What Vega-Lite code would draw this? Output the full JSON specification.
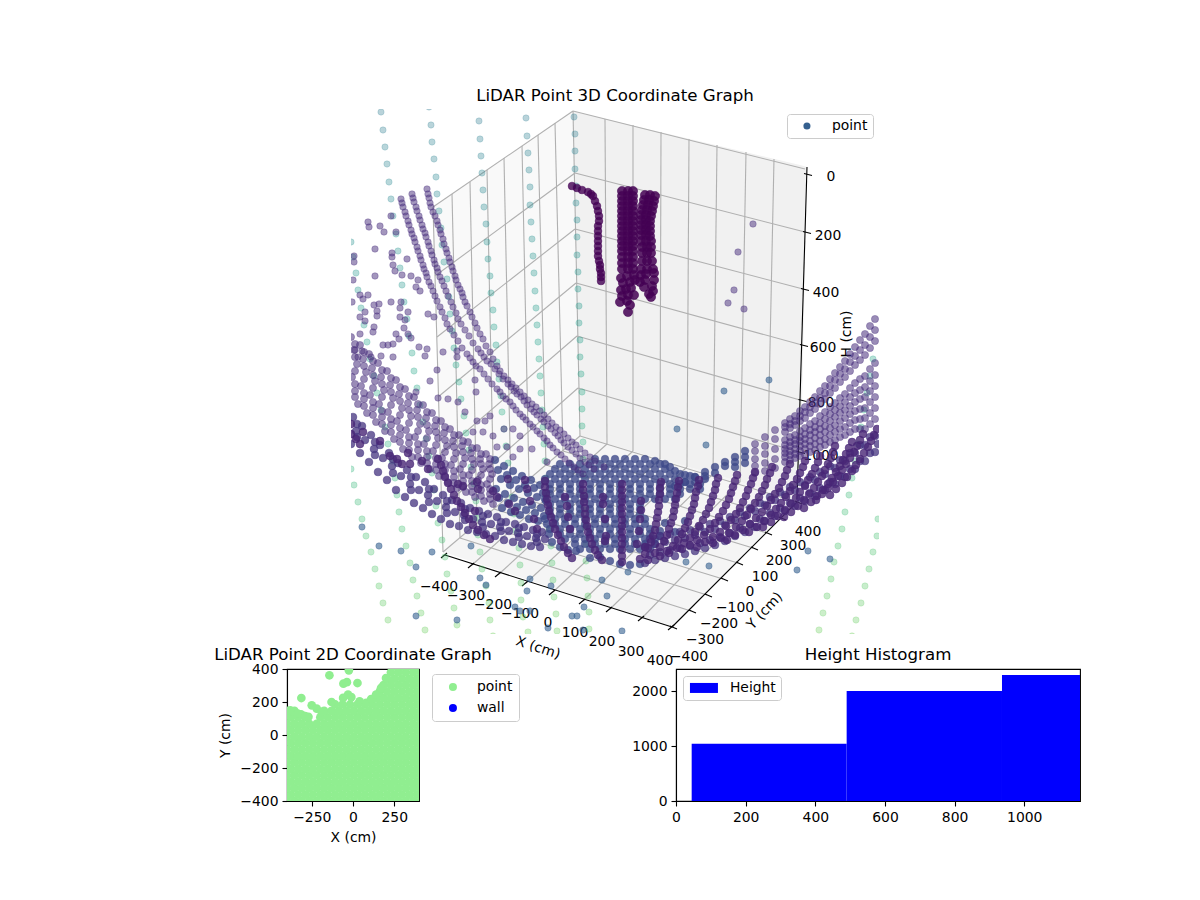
{"$schema":"https://vega.github.io/schema/vega-lite/v6.json","padding":{"left":213,"top":88,"right":0,"bottom":0},"spacing":-22,"background":"white",
"resolve":{"scale":{"color":"independent","shape":"independent"},"legend":{"color":"independent","shape":"independent"}},
"config":{"font":"DejaVu Sans","title":{"fontSize":16.67,"fontWeight":"normal","color":"black","anchor":"middle","offset":4},"axis":{"grid":false,"domainColor":"black","domainWidth":1.1,"tickColor":"black","tickWidth":1.1,"tickSize":5,"labelFontSize":13.9,"labelColor":"black","titleFontSize":13.9,"titleColor":"black","titleFontWeight":"normal","labelPadding":4,"titlePadding":7,"labelFlush":false,"labelOverlap":false},"legend":{"title":null,"orient":"none","strokeColor":"#cccccc","fillColor":"white","cornerRadius":3,"labelFontSize":13.9,"labelColor":"black","padding":6},"view":{"stroke":"black","strokeWidth":1.1},"text":{"fontSize":13.9,"color":"black"}},
"datasets":{
"pl":[{"u":433,"v":208,"b":208},{"u":443,"v":201,"b":553},{"u":573,"v":112,"b":443},{"u":580,"v":437,"b":437}],
"pr":[{"u":573,"v":112,"b":112},{"u":580,"v":114,"b":437},{"u":800,"v":166,"b":500},{"u":807,"v":168,"b":168}],
"pf":[{"u":443,"v":553,"b":553},{"u":580,"v":437,"b":598},{"u":672,"v":463,"b":628},{"u":800,"v":500,"b":500}],
"grid":[{"u":605,"v":120,"a":607,"b":445},{"u":633,"v":126,"a":633,"b":452},{"u":661,"v":133,"a":660,"b":460},{"u":689,"v":140,"a":687,"b":468},{"u":717,"v":146,"a":713,"b":475},{"u":746,"v":153,"a":740,"b":483},{"u":774,"v":160,"a":767,"b":490},
{"u":607,"v":445,"a":472,"b":566},{"u":633,"v":452,"a":499,"b":575},{"u":660,"v":460,"a":526,"b":584},{"u":687,"v":468,"a":553,"b":593},{"u":713,"v":475,"a":583,"b":602},{"u":740,"v":483,"a":610,"b":610},{"u":767,"v":490,"a":642,"b":619},
{"u":452,"v":195,"a":460,"b":539},{"u":470,"v":183,"a":477,"b":524},{"u":487,"v":171,"a":494,"b":510},{"u":504,"v":159,"a":511,"b":496},{"u":522,"v":147,"a":529,"b":481},{"u":538,"v":136,"a":546,"b":466},{"u":555,"v":124,"a":563,"b":452},
{"u":460,"v":539,"a":691,"b":612},{"u":477,"v":524,"a":707,"b":596},{"u":494,"v":510,"a":723,"b":580},{"u":511,"v":496,"a":738,"b":564},{"u":529,"v":481,"a":753,"b":549},{"u":546,"v":466,"a":767,"b":534},{"u":563,"v":452,"a":781,"b":519},
{"u":573,"v":112,"a":580,"b":437},{"u":433,"v":208,"a":443,"b":553},{"u":443,"v":553,"a":580,"b":437},{"u":580,"v":437,"a":797,"b":503},{"u":573,"v":112,"a":805,"b":170},{"u":573,"v":112,"a":433,"b":208},
{"u":575,"v":174,"a":805,"b":233},{"u":575,"v":230,"a":803,"b":290},{"u":576,"v":284,"a":802,"b":346},{"u":577,"v":337,"a":800,"b":401},{"u":578,"v":389,"a":799,"b":453},
{"u":575,"v":174,"a":435,"b":277},{"u":575,"v":230,"a":437,"b":338},{"u":576,"v":284,"a":438,"b":398},{"u":577,"v":337,"a":440,"b":455},{"u":578,"v":389,"a":441,"b":510}],
"ax":[{"u":445,"v":556,"a":672,"b":628},{"u":672,"v":628,"a":797,"b":503},{"u":807,"v":168,"a":797,"b":500},
{"u":447,"v":554,"a":441,"b":559},{"u":474,"v":564,"a":468,"b":569},{"u":501,"v":573,"a":495,"b":578},{"u":528,"v":582,"a":522,"b":587},{"u":555,"v":591,"a":549,"b":596},{"u":585,"v":600,"a":579,"b":605},{"u":612,"v":608,"a":606,"b":613},{"u":644,"v":617,"a":638,"b":622},{"u":674,"v":626,"a":668,"b":631},
{"u":670,"v":627,"a":677,"b":630},{"u":689,"v":611,"a":696,"b":614},{"u":705,"v":595,"a":712,"b":598},{"u":721,"v":579,"a":728,"b":582},{"u":736,"v":563,"a":743,"b":566},{"u":751,"v":548,"a":758,"b":551},{"u":765,"v":533,"a":772,"b":536},{"u":779,"v":518,"a":786,"b":521},{"u":795,"v":502,"a":802,"b":505},
{"u":804,"v":174.5,"a":812,"b":176.5},{"u":803,"v":232.5,"a":811,"b":234.5},{"u":801,"v":289.5,"a":809,"b":291.5},{"u":800,"v":345.5,"a":808,"b":347.5},{"u":798.5,"v":400.5,"a":806.5,"b":402.5},{"u":797,"v":452.5,"a":805,"b":454.5}],
"lab":[{"u":439,"v":588,"t":"−400"},{"u":466,"v":597,"t":"−300"},{"u":493,"v":606,"t":"−200"},{"u":520,"v":615,"t":"−100"},{"u":548,"v":624,"t":"0"},{"u":575,"v":634,"t":"100"},{"u":602,"v":643,"t":"200"},{"u":631,"v":653,"t":"300"},{"u":660,"v":662,"t":"400"},
{"u":689,"v":658,"t":"−400"},{"u":705,"v":641,"t":"−300"},{"u":719,"v":625,"t":"−200"},{"u":735,"v":609,"t":"−100"},{"u":750,"v":593,"t":"0"},{"u":765,"v":578,"t":"100"},{"u":779,"v":562,"t":"200"},{"u":793,"v":547,"t":"300"},{"u":808,"v":533,"t":"400"},
{"u":831,"v":178,"t":"0"},{"u":828,"v":237,"t":"200"},{"u":826,"v":294,"t":"400"},{"u":823,"v":349,"t":"600"},{"u":821,"v":404,"t":"800"},{"u":821,"v":457,"t":"1000"}],
"teal":[{"u":351,"v":243},{"u":353,"v":258},{"u":356,"v":274},{"u":358,"v":291},{"u":361,"v":309},{"u":364,"v":326},{"u":367,"v":343},{"u":370,"v":360},{"u":374,"v":377},{"u":377,"v":394},{"u":381,"v":411},{"u":385,"v":428},{"u":388,"v":445},{"u":392,"v":462},{"u":395,"v":479},{"u":397,"v":496},{"u":399,"v":513},{"u":402,"v":530},{"u":406,"v":547},{"u":410,"v":564},{"u":413,"v":581},{"u":417,"v":597},{"u":421,"v":614},{"u":425,"v":631},
{"u":351,"v":470},{"u":354,"v":486},{"u":358,"v":503},{"u":362,"v":520},{"u":366,"v":537},{"u":371,"v":553},{"u":375,"v":570},{"u":379,"v":587},{"u":383,"v":604},{"u":388,"v":621},
{"u":381,"v":113},{"u":383,"v":131},{"u":385,"v":148},{"u":387,"v":165},{"u":389,"v":183},{"u":391,"v":200},{"u":393,"v":217},{"u":396,"v":235},{"u":398,"v":252},{"u":400,"v":269},{"u":402,"v":286},{"u":404,"v":303},{"u":407,"v":320},{"u":409,"v":337},{"u":412,"v":354},{"u":414,"v":372},{"u":417,"v":389},{"u":420,"v":406},{"u":423,"v":423},{"u":426,"v":440},{"u":429,"v":457},{"u":432,"v":474},{"u":434,"v":491},{"u":436,"v":507},{"u":438,"v":524},{"u":442,"v":541},{"u":445,"v":558},{"u":447,"v":575},{"u":451,"v":592},{"u":454,"v":609},{"u":457,"v":626},
{"u":429,"v":108},{"u":431,"v":126},{"u":432,"v":143},{"u":434,"v":160},{"u":436,"v":178},{"u":437,"v":195},{"u":439,"v":212},{"u":441,"v":229},{"u":442,"v":246},{"u":444,"v":263},{"u":447,"v":280},{"u":449,"v":298},{"u":450,"v":315},{"u":452,"v":332},{"u":454,"v":349},{"u":456,"v":366},{"u":459,"v":383},{"u":461,"v":400},{"u":464,"v":417},{"u":466,"v":434},{"u":469,"v":451},{"u":471,"v":468},{"u":474,"v":485},{"u":476,"v":502},{"u":477,"v":519},{"u":478,"v":536},{"u":480,"v":553},{"u":482,"v":570},{"u":486,"v":587},{"u":489,"v":604},{"u":490,"v":621},{"u":493,"v":637},
{"u":479,"v":122},{"u":480,"v":140},{"u":481,"v":157},{"u":482,"v":174},{"u":483,"v":191},{"u":484,"v":208},{"u":486,"v":225},{"u":487,"v":243},{"u":488,"v":260},{"u":490,"v":277},{"u":491,"v":294},{"u":493,"v":311},{"u":494,"v":328},{"u":496,"v":346},{"u":497,"v":363},{"u":499,"v":380},{"u":501,"v":397},{"u":502,"v":413},{"u":504,"v":430},{"u":506,"v":447},{"u":508,"v":464},{"u":510,"v":481},{"u":512,"v":498},{"u":514,"v":515},{"u":516,"v":532},{"u":519,"v":549},{"u":520,"v":566},{"u":521,"v":584},{"u":521,"v":601},{"u":523,"v":618},{"u":528,"v":633},
{"u":526,"v":119},{"u":527,"v":137},{"u":528,"v":154},{"u":529,"v":171},{"u":530,"v":188},{"u":530,"v":206},{"u":531,"v":223},{"u":532,"v":240},{"u":533,"v":257},{"u":534,"v":274},{"u":535,"v":292},{"u":536,"v":309},{"u":537,"v":326},{"u":538,"v":343},{"u":539,"v":360},{"u":540,"v":377},{"u":541,"v":394},{"u":542,"v":411},{"u":543,"v":428},{"u":544,"v":445},{"u":545,"v":462},{"u":546,"v":479},{"u":547,"v":496},{"u":548,"v":513},{"u":549,"v":530},{"u":551,"v":547},{"u":552,"v":564},{"u":553,"v":581},{"u":554,"v":598},{"u":556,"v":615},{"u":557,"v":632},
{"u":574,"v":118},{"u":575,"v":135},{"u":575,"v":152},{"u":575,"v":170},{"u":576,"v":187},{"u":576,"v":204},{"u":577,"v":221},{"u":577,"v":238},{"u":577,"v":256},{"u":578,"v":273},{"u":578,"v":290},{"u":579,"v":307},{"u":579,"v":324},{"u":580,"v":341},{"u":580,"v":358},{"u":581,"v":375},{"u":582,"v":393},{"u":582,"v":410},{"u":582,"v":427},{"u":583,"v":443},{"u":583,"v":460},{"u":584,"v":477},{"u":584,"v":494},{"u":585,"v":511},{"u":585,"v":528},{"u":586,"v":545},{"u":586,"v":562},{"u":587,"v":579},{"u":588,"v":597},{"u":589,"v":613},{"u":589,"v":630},
{"u":873,"v":360},{"u":870,"v":377},{"u":867,"v":394},{"u":864,"v":411},{"u":861,"v":428},{"u":858,"v":445},{"u":855,"v":462},{"u":852,"v":479},{"u":849,"v":496},{"u":845,"v":513},{"u":842,"v":530},{"u":838,"v":547},{"u":834,"v":563},{"u":831,"v":580},{"u":827,"v":597},{"u":823,"v":614},{"u":819,"v":631},
{"u":878,"v":520},{"u":877,"v":537},{"u":873,"v":553},{"u":869,"v":570},{"u":865,"v":587},{"u":861,"v":604},{"u":856,"v":621},{"u":852,"v":637}],
"bscat":[{"u":432,"v":553},{"u":379,"v":547},{"u":401,"v":552},{"u":362,"v":528},{"u":416,"v":568},{"u":416,"v":617},{"u":457,"v":621},{"u":480,"v":579},{"u":486,"v":586},{"u":530,"v":580},{"u":527,"v":592},{"u":551,"v":587},{"u":515,"v":608},{"u":520,"v":612},{"u":530,"v":612},{"u":572,"v":617},{"u":577,"v":617},{"u":584,"v":608},{"u":607,"v":597},{"u":602,"v":581},{"u":548,"v":629},{"u":583,"v":631},{"u":471,"v":547},{"u":622,"v":632},{"u":628,"v":573},{"u":686,"v":563},{"u":709,"v":567},{"u":808,"v":552},{"u":830,"v":560},{"u":797,"v":571},{"u":677,"v":430},{"u":706,"v":446},{"u":724,"v":392},{"u":769,"v":381}],
"blue":[{"u":495,"v":461},{"u":498,"v":471},{"u":501,"v":480},{"u":496,"v":490},{"u":499,"v":499},{"u":502,"v":509},{"u":504,"v":467},{"u":507,"v":476},{"u":510,"v":486},{"u":505,"v":495},{"u":508,"v":504},{"u":511,"v":513},{"u":513,"v":472},{"u":516,"v":481},{"u":519,"v":490},{"u":514,"v":499},{"u":517,"v":508},{"u":520,"v":516},{"u":522,"v":477},{"u":525,"v":486},{"u":528,"v":494},{"u":523,"v":503},{"u":526,"v":511},{"u":529,"v":520},{"u":531,"v":481},{"u":534,"v":489},{"u":537,"v":498},{"u":532,"v":506},{"u":535,"v":514},{"u":538,"v":522},{"u":540,"v":486},{"u":543,"v":494},{"u":546,"v":502},{"u":541,"v":509},{"u":544,"v":517},{"u":547,"v":525},
{"u":595,"v":460},{"u":605,"v":460},{"u":615,"v":460},{"u":625,"v":460},{"u":635,"v":460},{"u":645,"v":460},{"u":655,"v":462},{"u":665,"v":465},
{"u":555,"v":470},{"u":565,"v":470},{"u":575,"v":470},{"u":585,"v":470},{"u":595,"v":470},{"u":605,"v":470},{"u":615,"v":470},{"u":625,"v":470},{"u":635,"v":470},{"u":645,"v":470},{"u":655,"v":470},{"u":665,"v":470},{"u":675,"v":472},{"u":685,"v":476},{"u":695,"v":478},
{"u":545,"v":480},{"u":555,"v":480},{"u":565,"v":480},{"u":575,"v":480},{"u":585,"v":480},{"u":595,"v":480},{"u":605,"v":480},{"u":615,"v":480},{"u":625,"v":480},{"u":635,"v":480},{"u":645,"v":480},{"u":655,"v":480},{"u":665,"v":480},{"u":675,"v":480},{"u":685,"v":483},{"u":695,"v":483},{"u":705,"v":480},
{"u":550,"v":490},{"u":560,"v":490},{"u":570,"v":490},{"u":580,"v":490},{"u":590,"v":490},{"u":600,"v":490},{"u":610,"v":490},{"u":620,"v":490},{"u":630,"v":490},{"u":640,"v":490},{"u":650,"v":490},{"u":660,"v":490},{"u":670,"v":490},{"u":680,"v":490},{"u":690,"v":490},{"u":700,"v":490},
{"u":545,"v":500},{"u":555,"v":500},{"u":565,"v":500},{"u":575,"v":500},{"u":585,"v":500},{"u":595,"v":500},{"u":605,"v":500},{"u":615,"v":500},{"u":625,"v":500},{"u":635,"v":500},{"u":645,"v":500},{"u":655,"v":500},{"u":665,"v":500},{"u":675,"v":500},
{"u":550,"v":510},{"u":560,"v":510},{"u":570,"v":510},{"u":580,"v":510},{"u":590,"v":510},{"u":600,"v":510},{"u":610,"v":510},{"u":620,"v":510},{"u":630,"v":510},{"u":640,"v":510},
{"u":545,"v":520},{"u":555,"v":520},{"u":565,"v":520},{"u":575,"v":520},{"u":585,"v":520},{"u":595,"v":520},{"u":605,"v":520},{"u":615,"v":520},{"u":625,"v":520},{"u":635,"v":520},{"u":645,"v":520},{"u":665,"v":524},{"u":685,"v":522},
{"u":550,"v":530},{"u":560,"v":530},{"u":570,"v":530},{"u":580,"v":530},{"u":590,"v":530},{"u":600,"v":530},{"u":610,"v":530},{"u":620,"v":530},{"u":630,"v":530},{"u":640,"v":530},{"u":650,"v":530},{"u":660,"v":532},{"u":675,"v":533},
{"u":565,"v":540},{"u":575,"v":540},{"u":585,"v":540},{"u":595,"v":540},{"u":605,"v":540},{"u":615,"v":540},{"u":625,"v":540},{"u":635,"v":540},{"u":645,"v":540},{"u":655,"v":540},
{"u":580,"v":550},{"u":590,"v":550},{"u":600,"v":550},{"u":610,"v":550},{"u":620,"v":550},{"u":630,"v":550},{"u":640,"v":550},{"u":650,"v":550},
{"u":549,"v":535},{"u":552,"v":543},{"u":560,"v":548},{"u":568,"v":551},{"u":576,"v":552},{"u":590,"v":559},{"u":600,"v":558},{"u":610,"v":562},{"u":620,"v":565},{"u":630,"v":566},{"u":640,"v":565},
{"u":725,"v":463},{"u":725,"v":467},{"u":735,"v":458},{"u":735,"v":463},{"u":735,"v":468},{"u":745,"v":452},{"u":745,"v":458},{"u":745,"v":464},{"u":715,"v":468},{"u":715,"v":474},{"u":705,"v":473},{"u":705,"v":477},{"u":695,"v":478},{"u":685,"v":483},{"u":675,"v":487},
{"u":560,"v":465},{"u":570,"v":465},{"u":580,"v":465},{"u":590,"v":465},{"u":600,"v":465},{"u":610,"v":465},{"u":620,"v":465},{"u":630,"v":465},{"u":640,"v":465},{"u":650,"v":465},{"u":660,"v":465},{"u":670,"v":468},
{"u":550,"v":475},{"u":560,"v":475},{"u":570,"v":475},{"u":580,"v":475},{"u":590,"v":475},{"u":600,"v":475},{"u":610,"v":475},{"u":620,"v":475},{"u":630,"v":475},{"u":640,"v":475},{"u":650,"v":475},{"u":660,"v":475},{"u":670,"v":475},{"u":680,"v":475},{"u":690,"v":477},
{"u":550,"v":485},{"u":560,"v":485},{"u":570,"v":485},{"u":580,"v":485},{"u":590,"v":485},{"u":600,"v":485},{"u":610,"v":485},{"u":620,"v":485},{"u":630,"v":485},{"u":640,"v":485},{"u":650,"v":485},{"u":660,"v":485},{"u":670,"v":485},{"u":680,"v":485},{"u":690,"v":485},{"u":700,"v":485},
{"u":550,"v":495},{"u":560,"v":495},{"u":570,"v":495},{"u":580,"v":495},{"u":590,"v":495},{"u":600,"v":495},{"u":610,"v":495},{"u":620,"v":495},{"u":630,"v":495},{"u":640,"v":495},{"u":650,"v":495},{"u":660,"v":495},{"u":670,"v":495},{"u":680,"v":495},
{"u":550,"v":505},{"u":560,"v":505},{"u":570,"v":505},{"u":580,"v":505},{"u":590,"v":505},{"u":600,"v":505},{"u":610,"v":505},{"u":620,"v":505},{"u":630,"v":505},{"u":640,"v":505},
{"u":550,"v":515},{"u":560,"v":515},{"u":570,"v":515},{"u":580,"v":515},{"u":590,"v":515},{"u":600,"v":515},{"u":610,"v":515},{"u":620,"v":515},{"u":630,"v":515},{"u":640,"v":515},
{"u":555,"v":525},{"u":565,"v":525},{"u":575,"v":525},{"u":585,"v":525},{"u":595,"v":525},{"u":605,"v":525},{"u":615,"v":525},{"u":625,"v":525},{"u":635,"v":525},{"u":645,"v":525},
{"u":560,"v":535},{"u":570,"v":535},{"u":580,"v":535},{"u":590,"v":535},{"u":600,"v":535},{"u":610,"v":535},{"u":620,"v":535},{"u":630,"v":535},{"u":640,"v":535},{"u":650,"v":535},{"u":660,"v":537},
{"u":575,"v":545},{"u":585,"v":545},{"u":595,"v":545},{"u":605,"v":545},{"u":615,"v":545},{"u":625,"v":545},{"u":635,"v":545},{"u":645,"v":545},{"u":655,"v":545}],
"lband":[{"u":351,"v":338},{"u":354,"v":351},{"u":357,"v":365},{"u":352,"v":378},{"u":355,"v":392},{"u":358,"v":405},{"u":360,"v":346},{"u":363,"v":360},{"u":366,"v":373},{"u":361,"v":387},{"u":364,"v":400},{"u":367,"v":414},{"u":369,"v":355},{"u":372,"v":369},{"u":375,"v":382},{"u":370,"v":396},{"u":373,"v":409},{"u":376,"v":423},{"u":378,"v":364},{"u":381,"v":378},{"u":384,"v":391},{"u":379,"v":405},{"u":382,"v":418},{"u":385,"v":432},{"u":387,"v":372},{"u":390,"v":386},{"u":393,"v":399},{"u":388,"v":413},{"u":391,"v":426},{"u":394,"v":440},{"u":396,"v":381},{"u":399,"v":395},{"u":402,"v":409},{"u":397,"v":422},{"u":400,"v":436},{"u":403,"v":450},{"u":405,"v":390},{"u":408,"v":404},{"u":411,"v":417},{"u":406,"v":431},{"u":409,"v":444},{"u":412,"v":458},{"u":414,"v":398},{"u":417,"v":411},{"u":420,"v":425},{"u":415,"v":438},{"u":418,"v":451},{"u":421,"v":464},{"u":423,"v":406},{"u":426,"v":419},{"u":429,"v":432},{"u":424,"v":445},{"u":427,"v":458},{"u":430,"v":470},{"u":432,"v":414},{"u":435,"v":427},{"u":438,"v":439},{"u":433,"v":452},{"u":436,"v":465},{"u":439,"v":477},{"u":441,"v":422},{"u":444,"v":434},{"u":447,"v":447},{"u":442,"v":459},{"u":445,"v":471},{"u":448,"v":483},{"u":450,"v":430},{"u":453,"v":442},{"u":456,"v":454},{"u":451,"v":466},{"u":454,"v":478},{"u":457,"v":489},{"u":459,"v":436},{"u":462,"v":447},{"u":465,"v":459},{"u":460,"v":470},{"u":463,"v":482},{"u":466,"v":493},{"u":468,"v":443},{"u":471,"v":454},{"u":474,"v":465},{"u":469,"v":476},{"u":472,"v":487},{"u":475,"v":498},{"u":477,"v":449},{"u":480,"v":460},{"u":483,"v":470},{"u":478,"v":481},{"u":481,"v":491},{"u":484,"v":502},{"u":486,"v":455},{"u":489,"v":465},{"u":492,"v":475},{"u":487,"v":485},{"u":490,"v":495},{"u":493,"v":505},
{"u":355,"v":345},{"u":355,"v":358},{"u":355,"v":372},{"u":355,"v":385},{"u":355,"v":398},{"u":364,"v":353},{"u":364,"v":367},{"u":364,"v":380},{"u":364,"v":394},{"u":364,"v":407},{"u":373,"v":362},{"u":373,"v":376},{"u":373,"v":389},{"u":373,"v":403},{"u":373,"v":416},{"u":382,"v":371},{"u":382,"v":385},{"u":382,"v":398},{"u":382,"v":412},{"u":382,"v":425},{"u":391,"v":379},{"u":391,"v":393},{"u":391,"v":406},{"u":391,"v":420},{"u":391,"v":433},{"u":400,"v":388},{"u":400,"v":402},{"u":400,"v":416},{"u":400,"v":429},{"u":400,"v":443},{"u":409,"v":397},{"u":409,"v":411},{"u":409,"v":424},{"u":409,"v":438},{"u":409,"v":451},{"u":418,"v":405},{"u":418,"v":418},{"u":418,"v":432},{"u":418,"v":445},{"u":418,"v":458},{"u":427,"v":413},{"u":427,"v":426},{"u":427,"v":439},{"u":427,"v":452},{"u":427,"v":464},{"u":436,"v":421},{"u":436,"v":433},{"u":436,"v":446},{"u":436,"v":459},{"u":436,"v":471},{"u":445,"v":428},{"u":445,"v":441},{"u":445,"v":453},{"u":445,"v":465},{"u":445,"v":477},{"u":454,"v":436},{"u":454,"v":448},{"u":454,"v":460},{"u":454,"v":472},{"u":454,"v":484},{"u":463,"v":442},{"u":463,"v":453},{"u":463,"v":465},{"u":463,"v":476},{"u":463,"v":488},{"u":472,"v":449},{"u":472,"v":460},{"u":472,"v":471},{"u":472,"v":482},{"u":472,"v":493},{"u":481,"v":455},{"u":481,"v":465},{"u":481,"v":476},{"u":481,"v":486},{"u":481,"v":497},{"u":490,"v":460},{"u":490,"v":470},{"u":490,"v":480},{"u":490,"v":490},{"u":490,"v":500},
{"u":875,"v":320},{"u":875,"v":331},{"u":875,"v":342},{"u":875,"v":364},{"u":875,"v":376},{"u":875,"v":387},{"u":875,"v":398},{"u":875,"v":409},{"u":875,"v":420},{"u":865,"v":335},{"u":865,"v":346},{"u":865,"v":356},{"u":865,"v":377},{"u":865,"v":388},{"u":865,"v":398},{"u":865,"v":409},{"u":865,"v":419},{"u":865,"v":430},{"u":855,"v":348},{"u":855,"v":357},{"u":855,"v":366},{"u":855,"v":384},{"u":855,"v":394},{"u":855,"v":403},{"u":855,"v":412},{"u":855,"v":421},{"u":855,"v":430},{"u":845,"v":362},{"u":845,"v":370},{"u":845,"v":378},{"u":845,"v":395},{"u":845,"v":403},{"u":845,"v":411},{"u":845,"v":419},{"u":845,"v":428},{"u":845,"v":436},{"u":835,"v":374},{"u":835,"v":381},{"u":835,"v":389},{"u":835,"v":404},{"u":835,"v":411},{"u":835,"v":418},{"u":835,"v":426},{"u":835,"v":433},{"u":835,"v":441},{"u":825,"v":387},{"u":825,"v":394},{"u":825,"v":400},{"u":825,"v":413},{"u":825,"v":420},{"u":825,"v":427},{"u":825,"v":433},{"u":825,"v":440},{"u":825,"v":446},{"u":815,"v":398},{"u":815,"v":404},{"u":815,"v":410},{"u":815,"v":422},{"u":815,"v":428},{"u":815,"v":433},{"u":815,"v":439},{"u":815,"v":445},{"u":815,"v":451},{"u":805,"v":408},{"u":805,"v":413},{"u":805,"v":419},{"u":805,"v":429},{"u":805,"v":435},{"u":805,"v":440},{"u":805,"v":445},{"u":805,"v":450},{"u":805,"v":456},{"u":795,"v":417},{"u":795,"v":422},{"u":795,"v":426},{"u":795,"v":436},{"u":795,"v":441},{"u":795,"v":445},{"u":795,"v":450},{"u":795,"v":455},{"u":795,"v":459},{"u":785,"v":424},{"u":785,"v":428},{"u":785,"v":433},{"u":785,"v":441},{"u":785,"v":446},{"u":785,"v":450},{"u":785,"v":454},{"u":785,"v":458},{"u":785,"v":463},{"u":775,"v":431},{"u":775,"v":440},{"u":775,"v":450},{"u":775,"v":460},{"u":775,"v":469},{"u":765,"v":438},{"u":765,"v":447},{"u":765,"v":455},{"u":765,"v":464},{"u":765,"v":472},{"u":755,"v":445},{"u":755,"v":452},{"u":755,"v":460},{"u":755,"v":467},{"u":755,"v":474},
{"u":870,"v":327},{"u":870,"v":338},{"u":870,"v":349},{"u":870,"v":370},{"u":870,"v":382},{"u":870,"v":392},{"u":870,"v":403},{"u":870,"v":414},{"u":870,"v":425},{"u":860,"v":341},{"u":860,"v":351},{"u":860,"v":361},{"u":860,"v":380},{"u":860,"v":391},{"u":860,"v":400},{"u":860,"v":410},{"u":860,"v":420},{"u":860,"v":430},{"u":850,"v":355},{"u":850,"v":363},{"u":850,"v":372},{"u":850,"v":389},{"u":850,"v":398},{"u":850,"v":407},{"u":850,"v":415},{"u":850,"v":424},{"u":850,"v":433},{"u":840,"v":368},{"u":840,"v":375},{"u":840,"v":383},{"u":840,"v":399},{"u":840,"v":407},{"u":840,"v":414},{"u":840,"v":422},{"u":840,"v":430},{"u":840,"v":438},{"u":830,"v":380},{"u":830,"v":387},{"u":830,"v":394},{"u":830,"v":408},{"u":830,"v":415},{"u":830,"v":422},{"u":830,"v":429},{"u":830,"v":436},{"u":830,"v":443},{"u":820,"v":392},{"u":820,"v":399},{"u":820,"v":405},{"u":820,"v":417},{"u":820,"v":424},{"u":820,"v":430},{"u":820,"v":436},{"u":820,"v":442},{"u":820,"v":448},{"u":810,"v":403},{"u":810,"v":408},{"u":810,"v":414},{"u":810,"v":425},{"u":810,"v":431},{"u":810,"v":436},{"u":810,"v":442},{"u":810,"v":447},{"u":810,"v":453},{"u":800,"v":412},{"u":800,"v":417},{"u":800,"v":422},{"u":800,"v":432},{"u":800,"v":438},{"u":800,"v":442},{"u":800,"v":447},{"u":800,"v":452},{"u":800,"v":457},{"u":790,"v":420},{"u":790,"v":425},{"u":790,"v":429},{"u":790,"v":438},{"u":790,"v":443},{"u":790,"v":447},{"u":790,"v":452},{"u":790,"v":456},{"u":790,"v":461}],
"light":[{"u":401,"v":200},{"u":402,"v":204},{"u":403,"v":208},{"u":405,"v":213},{"u":406,"v":217},{"u":408,"v":222},{"u":409,"v":226},{"u":411,"v":231},{"u":412,"v":235},{"u":414,"v":239},{"u":415,"v":243},{"u":417,"v":248},{"u":418,"v":252},{"u":420,"v":257},{"u":421,"v":261},{"u":423,"v":266},{"u":424,"v":270},{"u":426,"v":274},{"u":427,"v":278},{"u":429,"v":283},{"u":431,"v":287},{"u":433,"v":292},{"u":435,"v":297},{"u":437,"v":302},{"u":440,"v":308},{"u":442,"v":313},{"u":445,"v":319},{"u":447,"v":325},{"u":450,"v":330},{"u":454,"v":336},{"u":458,"v":342},{"u":462,"v":349},{"u":467,"v":355},{"u":470,"v":359},{"u":473,"v":363},{"u":476,"v":367},{"u":480,"v":370},{"u":484,"v":375},{"u":488,"v":380},{"u":492,"v":385},{"u":497,"v":390},{"u":500,"v":393},{"u":503,"v":397},{"u":506,"v":400},{"u":510,"v":403},{"u":513,"v":407},{"u":516,"v":411},{"u":520,"v":415},{"u":523,"v":418},{"u":526,"v":421},{"u":530,"v":425},{"u":533,"v":428},{"u":537,"v":432},{"u":540,"v":435},{"u":544,"v":439},{"u":547,"v":442},{"u":550,"v":446},{"u":553,"v":449},{"u":557,"v":453},{"u":561,"v":456},{"u":565,"v":460},{"u":569,"v":464},{"u":574,"v":468},{"u":578,"v":471},{"u":583,"v":475},
{"u":412,"v":195},{"u":413,"v":199},{"u":414,"v":203},{"u":416,"v":208},{"u":417,"v":212},{"u":419,"v":217},{"u":420,"v":221},{"u":422,"v":226},{"u":423,"v":230},{"u":425,"v":234},{"u":426,"v":238},{"u":428,"v":243},{"u":429,"v":247},{"u":431,"v":252},{"u":432,"v":256},{"u":434,"v":261},{"u":435,"v":265},{"u":437,"v":269},{"u":438,"v":273},{"u":440,"v":278},{"u":442,"v":282},{"u":444,"v":287},{"u":446,"v":292},{"u":448,"v":297},{"u":451,"v":303},{"u":453,"v":308},{"u":456,"v":314},{"u":458,"v":320},{"u":461,"v":325},{"u":465,"v":331},{"u":469,"v":337},{"u":473,"v":344},{"u":478,"v":350},{"u":481,"v":354},{"u":484,"v":358},{"u":487,"v":362},{"u":491,"v":365},{"u":495,"v":370},{"u":499,"v":375},{"u":503,"v":380},{"u":508,"v":385},{"u":511,"v":388},{"u":514,"v":392},{"u":517,"v":395},{"u":521,"v":398},{"u":524,"v":402},{"u":527,"v":406},{"u":531,"v":410},{"u":534,"v":413},{"u":537,"v":416},{"u":541,"v":420},{"u":544,"v":423},{"u":548,"v":427},{"u":551,"v":430},{"u":555,"v":434},{"u":558,"v":437},{"u":561,"v":441},{"u":564,"v":444},{"u":568,"v":448},{"u":572,"v":451},{"u":576,"v":455},{"u":580,"v":459},{"u":585,"v":463},{"u":589,"v":466},{"u":594,"v":470},
{"u":427,"v":190},{"u":428,"v":195},{"u":429,"v":199},{"u":430,"v":204},{"u":431,"v":208},{"u":433,"v":213},{"u":435,"v":217},{"u":437,"v":222},{"u":438,"v":226},{"u":440,"v":231},{"u":441,"v":235},{"u":443,"v":240},{"u":444,"v":245},{"u":446,"v":250},{"u":447,"v":254},{"u":449,"v":259},{"u":450,"v":263},{"u":452,"v":268},{"u":453,"v":272},{"u":455,"v":277},{"u":456,"v":281},{"u":458,"v":286},{"u":460,"v":290},{"u":462,"v":294},{"u":463,"v":298},{"u":465,"v":303},{"u":467,"v":307},{"u":470,"v":313},{"u":472,"v":318},{"u":475,"v":324},{"u":477,"v":329},{"u":480,"v":335},{"u":483,"v":340},{"u":486,"v":347},{"u":490,"v":353},{"u":493,"v":360},{"u":497,"v":367},{"u":500,"v":372},{"u":504,"v":377},{"u":508,"v":381},{"u":512,"v":385},{"u":516,"v":389},{"u":520,"v":393},{"u":524,"v":397},{"u":528,"v":401},{"u":532,"v":405},{"u":536,"v":408},{"u":540,"v":412},{"u":544,"v":416},{"u":548,"v":420},{"u":552,"v":424},{"u":556,"v":428},{"u":560,"v":431},{"u":564,"v":435},{"u":568,"v":439},{"u":572,"v":443},{"u":576,"v":446},{"u":580,"v":450},{"u":585,"v":454},{"u":590,"v":458},{"u":595,"v":462},{"u":604,"v":468},
{"u":391,"v":217},{"u":368,"v":223},{"u":369,"v":228},{"u":380,"v":227},{"u":384,"v":233},{"u":396,"v":233},{"u":375,"v":250},{"u":392,"v":254},{"u":392,"v":258},{"u":354,"v":257},{"u":354,"v":263},{"u":407,"v":260},{"u":393,"v":266},{"u":395,"v":272},{"u":402,"v":276},{"u":411,"v":277},{"u":418,"v":281},{"u":353,"v":281},{"u":375,"v":277},{"u":416,"v":288},{"u":420,"v":292},{"u":360,"v":296},{"u":368,"v":296},{"u":363,"v":300},{"u":352,"v":303},{"u":374,"v":306},{"u":379,"v":305},{"u":377,"v":312},{"u":377,"v":317},{"u":391,"v":303},{"u":401,"v":303},{"u":400,"v":309},{"u":408,"v":313},{"u":400,"v":318},{"u":405,"v":321},{"u":428,"v":315},{"u":434,"v":318},{"u":360,"v":318},{"u":365,"v":313},{"u":365,"v":322},{"u":374,"v":328},{"u":373,"v":333},{"u":360,"v":335},{"u":404,"v":329},{"u":408,"v":335},{"u":411,"v":339},{"u":396,"v":335},{"u":399,"v":340},{"u":383,"v":346},{"u":388,"v":346},{"u":393,"v":345},{"u":419,"v":348},{"u":427,"v":350},{"u":443,"v":353},{"u":457,"v":352},{"u":393,"v":358},{"u":381,"v":357},{"u":362,"v":352},{"u":355,"v":351},{"u":425,"v":357},{"u":457,"v":358},{"u":371,"v":358},{"u":358,"v":358},{"u":476,"v":393},{"u":475,"v":381},{"u":437,"v":371},{"u":416,"v":393},{"u":430,"v":382},{"u":448,"v":400},{"u":438,"v":399},{"u":458,"v":403},{"u":465,"v":413},{"u":477,"v":422},{"u":485,"v":422},{"u":490,"v":417},{"u":473,"v":433},{"u":483,"v":433},{"u":493,"v":437},{"u":504,"v":430},{"u":513,"v":430},{"u":520,"v":437},{"u":497,"v":448},{"u":507,"v":448},{"u":520,"v":450},{"u":532,"v":450},{"u":513,"v":458},{"u":547,"v":463},
{"u":753,"v":225},{"u":738,"v":253},{"u":734,"v":291},{"u":728,"v":304},{"u":744,"v":310}],
"mid":[{"u":353,"v":418},{"u":356,"v":432},{"u":351,"v":445},{"u":362,"v":427},{"u":365,"v":441},{"u":360,"v":454},{"u":371,"v":436},{"u":374,"v":450},{"u":369,"v":463},{"u":380,"v":446},{"u":383,"v":459},{"u":378,"v":473},{"u":389,"v":454},{"u":392,"v":467},{"u":387,"v":481},{"u":398,"v":464},{"u":401,"v":477},{"u":396,"v":491},{"u":407,"v":471},{"u":410,"v":485},{"u":405,"v":498},{"u":416,"v":478},{"u":419,"v":491},{"u":414,"v":504},{"u":425,"v":483},{"u":428,"v":496},{"u":423,"v":509},{"u":434,"v":490},{"u":437,"v":502},{"u":432,"v":515},{"u":443,"v":496},{"u":446,"v":508},{"u":441,"v":520},{"u":452,"v":501},{"u":455,"v":513},{"u":450,"v":525},{"u":461,"v":504},{"u":464,"v":516},{"u":459,"v":527},{"u":470,"v":509},{"u":473,"v":520},{"u":468,"v":531},{"u":479,"v":512},{"u":482,"v":523},{"u":477,"v":533},{"u":488,"v":515},{"u":491,"v":525},{"u":486,"v":535},{"u":497,"v":518},{"u":500,"v":528},{"u":495,"v":537},{"u":506,"v":523},{"u":509,"v":532},{"u":504,"v":541},{"u":515,"v":525},{"u":518,"v":534},{"u":513,"v":543},{"u":524,"v":528},{"u":527,"v":537},{"u":522,"v":545},{"u":533,"v":531},{"u":536,"v":539},{"u":531,"v":547},{"u":542,"v":533},{"u":545,"v":540},{"u":540,"v":548},
{"u":357,"v":425},{"u":357,"v":438},{"u":375,"v":443},{"u":375,"v":456},{"u":393,"v":460},{"u":393,"v":474},{"u":411,"v":478},{"u":411,"v":491},{"u":429,"v":490},{"u":429,"v":503},{"u":447,"v":502},{"u":447,"v":514},{"u":465,"v":510},{"u":465,"v":521},{"u":483,"v":517},{"u":483,"v":528},{"u":501,"v":523},{"u":501,"v":532},{"u":519,"v":529},{"u":519,"v":538},{"u":537,"v":535},{"u":537,"v":543},
{"u":645,"v":564},{"u":650,"v":556},{"u":645,"v":548},{"u":650,"v":540},{"u":655,"v":561},{"u":660,"v":553},{"u":655,"v":545},{"u":660,"v":537},{"u":665,"v":559},{"u":670,"v":551},{"u":665,"v":543},{"u":670,"v":535},{"u":675,"v":557},{"u":680,"v":549},{"u":675,"v":541},{"u":680,"v":533},{"u":685,"v":555},{"u":690,"v":547},{"u":685,"v":539},{"u":690,"v":531},{"u":695,"v":552},{"u":700,"v":544},{"u":695,"v":536},{"u":700,"v":528},{"u":705,"v":549},{"u":710,"v":541},{"u":705,"v":533},{"u":710,"v":525},{"u":715,"v":546},{"u":720,"v":538},{"u":715,"v":530},{"u":720,"v":522},{"u":725,"v":542},{"u":730,"v":534},{"u":725,"v":526},{"u":730,"v":518},{"u":735,"v":537},{"u":740,"v":529},{"u":735,"v":521},{"u":740,"v":513},{"u":745,"v":533},{"u":750,"v":525},{"u":745,"v":517},{"u":750,"v":509},{"u":755,"v":528},{"u":760,"v":520},{"u":755,"v":512},{"u":760,"v":504},{"u":765,"v":522},{"u":770,"v":514},{"u":765,"v":506},{"u":770,"v":498},{"u":775,"v":517},{"u":780,"v":509},{"u":775,"v":501},{"u":780,"v":493},{"u":785,"v":512},{"u":790,"v":504},{"u":785,"v":496},{"u":790,"v":488},{"u":795,"v":507},{"u":800,"v":499},{"u":795,"v":491},{"u":800,"v":483},{"u":805,"v":502},{"u":810,"v":494},{"u":805,"v":486},{"u":810,"v":478},{"u":815,"v":497},{"u":820,"v":489},{"u":815,"v":481},{"u":820,"v":473},{"u":825,"v":491},{"u":830,"v":483},{"u":825,"v":475},{"u":830,"v":467},{"u":835,"v":485},{"u":840,"v":477},{"u":835,"v":469},{"u":840,"v":461},{"u":845,"v":478},{"u":850,"v":470},{"u":845,"v":462},{"u":850,"v":454},{"u":855,"v":470},{"u":860,"v":462},{"u":855,"v":454},{"u":860,"v":446},{"u":865,"v":462},{"u":870,"v":454},{"u":865,"v":446},{"u":870,"v":438},{"u":875,"v":453},{"u":878,"v":445},{"u":875,"v":437}],
"dark":[{"u":622,"v":485},{"u":622,"v":491},{"u":622,"v":497},{"u":622,"v":503},{"u":622,"v":509},{"u":622,"v":515},{"u":622,"v":521},{"u":622,"v":527},{"u":622,"v":533},{"u":622,"v":539},{"u":622,"v":545},{"u":622,"v":551},{"u":622,"v":557},{"u":622,"v":563},
{"u":661,"v":483},{"u":660,"v":489},{"u":660,"v":495},{"u":659,"v":501},{"u":659,"v":507},{"u":658,"v":513},{"u":657,"v":519},{"u":656,"v":525},{"u":655,"v":531},{"u":653,"v":537},{"u":651,"v":543},{"u":648,"v":549},{"u":645,"v":555},{"u":640,"v":560},
{"u":679,"v":482},{"u":678,"v":488},{"u":677,"v":494},{"u":676,"v":500},{"u":675,"v":506},{"u":674,"v":512},{"u":673,"v":518},{"u":671,"v":524},{"u":669,"v":530},{"u":667,"v":536},{"u":664,"v":542},{"u":660,"v":548},{"u":655,"v":554},{"u":648,"v":561},
{"u":699,"v":481},{"u":698,"v":487},{"u":696,"v":493},{"u":695,"v":499},{"u":694,"v":505},{"u":692,"v":511},{"u":690,"v":517},{"u":688,"v":523},{"u":685,"v":529},{"u":682,"v":535},{"u":678,"v":541},{"u":673,"v":547},{"u":667,"v":552},{"u":660,"v":557},
{"u":718,"v":479},{"u":716,"v":485},{"u":715,"v":491},{"u":713,"v":497},{"u":711,"v":503},{"u":709,"v":509},{"u":706,"v":515},{"u":703,"v":521},{"u":699,"v":527},{"u":695,"v":533},{"u":690,"v":539},{"u":684,"v":544},{"u":677,"v":549},{"u":669,"v":554},
{"u":737,"v":476},{"u":735,"v":482},{"u":733,"v":488},{"u":731,"v":494},{"u":729,"v":500},{"u":726,"v":506},{"u":723,"v":512},{"u":719,"v":518},{"u":715,"v":524},{"u":710,"v":530},{"u":704,"v":536},{"u":697,"v":541},{"u":690,"v":546},{"u":682,"v":550},
{"u":755,"v":473},{"u":753,"v":479},{"u":751,"v":485},{"u":748,"v":491},{"u":746,"v":497},{"u":743,"v":503},{"u":740,"v":509},{"u":736,"v":515},{"u":731,"v":521},{"u":726,"v":527},{"u":720,"v":533},{"u":713,"v":538},{"u":705,"v":543},{"u":697,"v":548},
{"u":772,"v":468},{"u":770,"v":474},{"u":767,"v":480},{"u":765,"v":486},{"u":762,"v":492},{"u":759,"v":498},{"u":755,"v":504},{"u":751,"v":510},{"u":747,"v":516},{"u":742,"v":522},{"u":736,"v":528},{"u":729,"v":534},{"u":721,"v":539},{"u":713,"v":544},
{"u":790,"v":465},{"u":787,"v":471},{"u":785,"v":477},{"u":782,"v":483},{"u":779,"v":489},{"u":775,"v":495},{"u":771,"v":501},{"u":767,"v":507},{"u":762,"v":513},{"u":756,"v":519},{"u":750,"v":525},{"u":743,"v":531},{"u":735,"v":536},{"u":727,"v":541},
{"u":805,"v":462},{"u":803,"v":468},{"u":800,"v":474},{"u":797,"v":480},{"u":793,"v":486},{"u":790,"v":492},{"u":786,"v":498},{"u":781,"v":504},{"u":776,"v":510},{"u":771,"v":516},{"u":764,"v":522},{"u":757,"v":528},{"u":749,"v":533},
{"u":820,"v":457},{"u":818,"v":463},{"u":815,"v":469},{"u":812,"v":475},{"u":808,"v":481},{"u":805,"v":487},{"u":800,"v":493},{"u":796,"v":499},{"u":791,"v":505},{"u":785,"v":511},{"u":778,"v":517},{"u":771,"v":523},{"u":763,"v":528},
{"u":835,"v":447},{"u":833,"v":453},{"u":831,"v":459},{"u":828,"v":465},{"u":825,"v":471},{"u":822,"v":477},{"u":818,"v":483},{"u":814,"v":489},{"u":809,"v":495},{"u":804,"v":501},{"u":798,"v":507},{"u":791,"v":513},{"u":784,"v":518},
{"u":852,"v":443},{"u":849,"v":449},{"u":846,"v":455},{"u":843,"v":461},{"u":840,"v":467},{"u":836,"v":473},{"u":832,"v":479},{"u":828,"v":485},{"u":823,"v":491},{"u":817,"v":497},{"u":811,"v":503},{"u":804,"v":509},
{"u":863,"v":435},{"u":860,"v":441},{"u":857,"v":447},{"u":854,"v":453},{"u":850,"v":459},{"u":846,"v":465},{"u":842,"v":471},{"u":838,"v":477},{"u":833,"v":483},{"u":828,"v":489},{"u":822,"v":495},{"u":816,"v":501},
{"u":877,"v":430},{"u":874,"v":436},{"u":871,"v":442},{"u":868,"v":448},{"u":864,"v":454},{"u":860,"v":460},{"u":856,"v":466},{"u":852,"v":472},{"u":847,"v":478},{"u":842,"v":484},{"u":836,"v":490},{"u":830,"v":496},
{"u":438,"v":460},{"u":441,"v":466},{"u":443,"v":472},{"u":445,"v":478},{"u":448,"v":484},{"u":451,"v":490},{"u":454,"v":496},{"u":457,"v":502},{"u":461,"v":508},{"u":465,"v":514},{"u":469,"v":520},{"u":473,"v":526},{"u":478,"v":531},{"u":484,"v":536},{"u":490,"v":540},
{"u":545,"v":482},{"u":545,"v":488},{"u":546,"v":494},{"u":547,"v":500},{"u":548,"v":506},{"u":549,"v":512},{"u":551,"v":518},{"u":553,"v":524},{"u":555,"v":530},{"u":558,"v":536},{"u":561,"v":542},{"u":564,"v":548},{"u":568,"v":554},{"u":572,"v":559},
{"u":583,"v":485},{"u":583,"v":491},{"u":584,"v":497},{"u":584,"v":503},{"u":585,"v":509},{"u":585,"v":515},{"u":586,"v":521},{"u":587,"v":527},{"u":588,"v":533},{"u":590,"v":539},{"u":592,"v":545},{"u":595,"v":551},{"u":598,"v":556},{"u":602,"v":561},
{"u":477,"v":483},{"u":478,"v":490},{"u":493,"v":492},{"u":497,"v":498},{"u":509,"v":505},{"u":515,"v":512},{"u":525,"v":481},{"u":527,"v":490},{"u":530,"v":502},{"u":534,"v":520},{"u":537,"v":530},{"u":508,"v":480},{"u":565,"v":498},{"u":567,"v":507},{"u":568,"v":518},{"u":570,"v":530},{"u":603,"v":498},{"u":603,"v":505},{"u":605,"v":520},{"u":606,"v":537},{"u":605,"v":542},{"u":641,"v":502},{"u":641,"v":511},{"u":640,"v":520},{"u":639,"v":532},{"u":637,"v":545},{"u":645,"v":548},{"u":408,"v":454},{"u":390,"v":457},{"u":397,"v":460},{"u":380,"v":442},{"u":363,"v":433},{"u":422,"v":462},{"u":428,"v":470},{"u":410,"v":465},{"u":402,"v":465},{"u":458,"v":485},{"u":463,"v":487},{"u":475,"v":512},{"u":351,"v":425},{"u":351,"v":435},{"u":356,"v":440},{"u":360,"v":445}],
"wall":[{"u":572,"v":187},{"u":577,"v":189},{"u":582,"v":191},{"u":588,"v":193},{"u":591,"v":195},{"u":593,"v":197},{"u":595,"v":202},{"u":597,"v":207},{"u":598,"v":212},{"u":599,"v":217},{"u":599,"v":222},{"u":598,"v":227},{"u":598,"v":232},{"u":598,"v":237},{"u":598,"v":242},{"u":598,"v":247},{"u":598,"v":252},{"u":598,"v":257},{"u":599,"v":262},{"u":600,"v":266},{"u":600,"v":270},{"u":601,"v":274},{"u":601,"v":278},{"u":601,"v":282}],
"wall2":[{"u":622,"v":192},{"u":628,"v":192},{"u":633,"v":192},{"u":622,"v":197},{"u":628,"v":197},{"u":633,"v":197},{"u":622,"v":202},{"u":628,"v":202},{"u":633,"v":202},{"u":622,"v":207},{"u":628,"v":207},{"u":633,"v":207},{"u":622,"v":212},{"u":628,"v":212},{"u":633,"v":212},{"u":622,"v":217},{"u":628,"v":217},{"u":633,"v":217},{"u":622,"v":222},{"u":628,"v":222},{"u":633,"v":222},{"u":622,"v":227},{"u":628,"v":227},{"u":633,"v":227},{"u":622,"v":232},{"u":628,"v":232},{"u":633,"v":232},{"u":622,"v":237},{"u":628,"v":237},{"u":633,"v":237},{"u":622,"v":242},{"u":628,"v":242},{"u":633,"v":242},{"u":622,"v":247},{"u":628,"v":247},{"u":633,"v":247},{"u":622,"v":252},{"u":628,"v":252},{"u":633,"v":252},{"u":622,"v":258},{"u":628,"v":258},{"u":633,"v":258},{"u":622,"v":264},{"u":628,"v":264},{"u":633,"v":264},{"u":622,"v":270},{"u":628,"v":270},{"u":633,"v":270},{"u":621,"v":279},{"u":627,"v":277},{"u":634,"v":276},{"u":623,"v":284},{"u":630,"v":283},{"u":635,"v":281},{"u":621,"v":291},{"u":626,"v":290},{"u":631,"v":289},{"u":622,"v":297},{"u":628,"v":296},{"u":634,"v":296},{"u":620,"v":303},{"u":627,"v":302},{"u":630,"v":306},{"u":628,"v":313},
{"u":645,"v":196},{"u":650,"v":196},{"u":655,"v":197},{"u":644,"v":201},{"u":649,"v":201},{"u":654,"v":202},{"u":643,"v":206},{"u":648,"v":206},{"u":653,"v":207},{"u":642,"v":211},{"u":647,"v":211},{"u":652,"v":212},{"u":641,"v":216},{"u":646,"v":216},{"u":651,"v":217},{"u":641,"v":221},{"u":646,"v":221},{"u":650,"v":222},{"u":641,"v":226},{"u":646,"v":226},{"u":650,"v":227},{"u":641,"v":231},{"u":646,"v":231},{"u":650,"v":232},{"u":641,"v":236},{"u":646,"v":236},{"u":650,"v":237},{"u":641,"v":242},{"u":646,"v":242},{"u":651,"v":242},{"u":642,"v":248},{"u":647,"v":248},{"u":651,"v":248},{"u":642,"v":254},{"u":647,"v":254},{"u":651,"v":254},{"u":642,"v":262},{"u":647,"v":262},{"u":652,"v":262},{"u":641,"v":270},{"u":647,"v":270},{"u":653,"v":270},{"u":641,"v":276},{"u":646,"v":275},{"u":654,"v":274},{"u":640,"v":283},{"u":645,"v":281},{"u":654,"v":281},{"u":644,"v":288},{"u":652,"v":287},{"u":653,"v":292},{"u":649,"v":295},{"u":651,"v":298}],
"p2":[{"x":-400,"y":-400},{"x":-355,"y":-400},{"x":-310,"y":-400},{"x":-265,"y":-400},{"x":-220,"y":-400},{"x":-175,"y":-400},{"x":-130,"y":-400},{"x":-85,"y":-400},{"x":-40,"y":-400},{"x":5,"y":-400},{"x":50,"y":-400},{"x":95,"y":-400},{"x":140,"y":-400},{"x":185,"y":-400},{"x":230,"y":-400},{"x":275,"y":-400},{"x":320,"y":-400},{"x":365,"y":-400},{"x":410,"y":-400},
{"x":-378,"y":-361},{"x":-333,"y":-361},{"x":-288,"y":-361},{"x":-243,"y":-361},{"x":-198,"y":-361},{"x":-153,"y":-361},{"x":-108,"y":-361},{"x":-63,"y":-361},{"x":-18,"y":-361},{"x":27,"y":-361},{"x":72,"y":-361},{"x":117,"y":-361},{"x":162,"y":-361},{"x":207,"y":-361},{"x":252,"y":-361},{"x":297,"y":-361},{"x":342,"y":-361},{"x":387,"y":-361},
{"x":-400,"y":-322},{"x":-355,"y":-322},{"x":-310,"y":-322},{"x":-265,"y":-322},{"x":-220,"y":-322},{"x":-175,"y":-322},{"x":-130,"y":-322},{"x":-85,"y":-322},{"x":-40,"y":-322},{"x":5,"y":-322},{"x":50,"y":-322},{"x":95,"y":-322},{"x":140,"y":-322},{"x":185,"y":-322},{"x":230,"y":-322},{"x":275,"y":-322},{"x":320,"y":-322},{"x":365,"y":-322},{"x":410,"y":-322},
{"x":-378,"y":-283},{"x":-333,"y":-283},{"x":-288,"y":-283},{"x":-243,"y":-283},{"x":-198,"y":-283},{"x":-153,"y":-283},{"x":-108,"y":-283},{"x":-63,"y":-283},{"x":-18,"y":-283},{"x":27,"y":-283},{"x":72,"y":-283},{"x":117,"y":-283},{"x":162,"y":-283},{"x":207,"y":-283},{"x":252,"y":-283},{"x":297,"y":-283},{"x":342,"y":-283},{"x":387,"y":-283},
{"x":-400,"y":-244},{"x":-355,"y":-244},{"x":-310,"y":-244},{"x":-265,"y":-244},{"x":-220,"y":-244},{"x":-175,"y":-244},{"x":-130,"y":-244},{"x":-85,"y":-244},{"x":-40,"y":-244},{"x":5,"y":-244},{"x":50,"y":-244},{"x":95,"y":-244},{"x":140,"y":-244},{"x":185,"y":-244},{"x":230,"y":-244},{"x":275,"y":-244},{"x":320,"y":-244},{"x":365,"y":-244},{"x":410,"y":-244},
{"x":-378,"y":-205},{"x":-333,"y":-205},{"x":-288,"y":-205},{"x":-243,"y":-205},{"x":-198,"y":-205},{"x":-153,"y":-205},{"x":-108,"y":-205},{"x":-63,"y":-205},{"x":-18,"y":-205},{"x":27,"y":-205},{"x":72,"y":-205},{"x":117,"y":-205},{"x":162,"y":-205},{"x":207,"y":-205},{"x":252,"y":-205},{"x":297,"y":-205},{"x":342,"y":-205},{"x":387,"y":-205},
{"x":-400,"y":-166},{"x":-355,"y":-166},{"x":-310,"y":-166},{"x":-265,"y":-166},{"x":-220,"y":-166},{"x":-175,"y":-166},{"x":-130,"y":-166},{"x":-85,"y":-166},{"x":-40,"y":-166},{"x":5,"y":-166},{"x":50,"y":-166},{"x":95,"y":-166},{"x":140,"y":-166},{"x":185,"y":-166},{"x":230,"y":-166},{"x":275,"y":-166},{"x":320,"y":-166},{"x":365,"y":-166},{"x":410,"y":-166},
{"x":-378,"y":-127},{"x":-333,"y":-127},{"x":-288,"y":-127},{"x":-243,"y":-127},{"x":-198,"y":-127},{"x":-153,"y":-127},{"x":-108,"y":-127},{"x":-63,"y":-127},{"x":-18,"y":-127},{"x":27,"y":-127},{"x":72,"y":-127},{"x":117,"y":-127},{"x":162,"y":-127},{"x":207,"y":-127},{"x":252,"y":-127},{"x":297,"y":-127},{"x":342,"y":-127},{"x":387,"y":-127},
{"x":-400,"y":-88},{"x":-355,"y":-88},{"x":-310,"y":-88},{"x":-265,"y":-88},{"x":-220,"y":-88},{"x":-175,"y":-88},{"x":-130,"y":-88},{"x":-85,"y":-88},{"x":-40,"y":-88},{"x":5,"y":-88},{"x":50,"y":-88},{"x":95,"y":-88},{"x":140,"y":-88},{"x":185,"y":-88},{"x":230,"y":-88},{"x":275,"y":-88},{"x":320,"y":-88},{"x":365,"y":-88},{"x":410,"y":-88},
{"x":-378,"y":-49},{"x":-333,"y":-49},{"x":-288,"y":-49},{"x":-243,"y":-49},{"x":-198,"y":-49},{"x":-153,"y":-49},{"x":-108,"y":-49},{"x":-63,"y":-49},{"x":-18,"y":-49},{"x":27,"y":-49},{"x":72,"y":-49},{"x":117,"y":-49},{"x":162,"y":-49},{"x":207,"y":-49},{"x":252,"y":-49},{"x":297,"y":-49},{"x":342,"y":-49},{"x":387,"y":-49},
{"x":-400,"y":-10},{"x":-355,"y":-10},{"x":-310,"y":-10},{"x":-265,"y":-10},{"x":-220,"y":-10},{"x":-175,"y":-10},{"x":-130,"y":-10},{"x":-85,"y":-10},{"x":-40,"y":-10},{"x":5,"y":-10},{"x":50,"y":-10},{"x":95,"y":-10},{"x":140,"y":-10},{"x":185,"y":-10},{"x":230,"y":-10},{"x":275,"y":-10},{"x":320,"y":-10},{"x":365,"y":-10},{"x":410,"y":-10},
{"x":-378,"y":29},{"x":-333,"y":29},{"x":-288,"y":29},{"x":-243,"y":29},{"x":-198,"y":29},{"x":-153,"y":29},{"x":-108,"y":29},{"x":-63,"y":29},{"x":-18,"y":29},{"x":27,"y":29},{"x":72,"y":29},{"x":117,"y":29},{"x":162,"y":29},{"x":207,"y":29},{"x":252,"y":29},{"x":297,"y":29},{"x":342,"y":29},{"x":387,"y":29},
{"x":-400,"y":68},{"x":-355,"y":68},{"x":-310,"y":68},{"x":-265,"y":68},{"x":-220,"y":68},{"x":-175,"y":68},{"x":-130,"y":68},{"x":-85,"y":68},{"x":-40,"y":68},{"x":5,"y":68},{"x":50,"y":68},{"x":95,"y":68},{"x":140,"y":68},{"x":185,"y":68},{"x":230,"y":68},{"x":275,"y":68},{"x":320,"y":68},{"x":365,"y":68},{"x":410,"y":68},
{"x":-378,"y":107},{"x":-333,"y":107},{"x":-288,"y":107},{"x":-198,"y":107},{"x":-153,"y":107},{"x":-108,"y":107},{"x":-63,"y":107},{"x":-18,"y":107},{"x":27,"y":107},{"x":72,"y":107},{"x":117,"y":107},{"x":162,"y":107},{"x":207,"y":107},{"x":252,"y":107},{"x":297,"y":107},{"x":342,"y":107},{"x":387,"y":107},
{"x":-400,"y":146},{"x":-355,"y":146},{"x":-175,"y":146},{"x":-130,"y":146},{"x":-85,"y":146},{"x":-40,"y":146},{"x":5,"y":146},{"x":50,"y":146},{"x":95,"y":146},{"x":140,"y":146},{"x":185,"y":146},{"x":230,"y":146},{"x":275,"y":146},{"x":320,"y":146},{"x":365,"y":146},{"x":410,"y":146},
{"x":-108,"y":185},{"x":-63,"y":185},{"x":-18,"y":185},{"x":27,"y":185},{"x":72,"y":185},{"x":117,"y":185},{"x":162,"y":185},{"x":207,"y":185},{"x":252,"y":185},{"x":297,"y":185},{"x":342,"y":185},{"x":387,"y":185},
{"x":140,"y":224},{"x":185,"y":224},{"x":230,"y":224},{"x":275,"y":224},{"x":320,"y":224},{"x":365,"y":224},{"x":410,"y":224},
{"x":162,"y":263},{"x":207,"y":263},{"x":252,"y":263},{"x":297,"y":263},{"x":342,"y":263},{"x":387,"y":263},
{"x":185,"y":302},{"x":230,"y":302},{"x":275,"y":302},{"x":320,"y":302},{"x":365,"y":302},{"x":410,"y":302},
{"x":207,"y":341},{"x":252,"y":341},{"x":297,"y":341},{"x":342,"y":341},{"x":387,"y":341},
{"x":230,"y":380},{"x":275,"y":380},{"x":320,"y":380},{"x":365,"y":380},{"x":410,"y":380},
{"x":252,"y":419},{"x":297,"y":419},{"x":342,"y":419},{"x":387,"y":419},
{"x":-313,"y":224},{"x":-250,"y":180},{"x":-220,"y":160},{"x":-190,"y":140},{"x":-130,"y":200},{"x":-143,"y":362},{"x":-25,"y":392},{"x":-58,"y":311},{"x":-37,"y":320},{"x":27,"y":315},{"x":-30,"y":245},{"x":-60,"y":225},{"x":-10,"y":230},{"x":40,"y":204},{"x":80,"y":195},{"x":110,"y":218},{"x":140,"y":245},{"x":170,"y":285},{"x":200,"y":345},{"x":-360,"y":140},{"x":-315,"y":125},{"x":-270,"y":110},{"x":-380,"y":150},{"x":-335,"y":130},{"x":-290,"y":115}]
},
"vconcat":[
{"spacing":0,"resolve":{"scale":{"color":"independent","shape":"independent"},"legend":{"color":"independent","shape":"independent"}},"hconcat":[
{"width":64,"height":10,"view":{"stroke":null},"data":{"values":[]},"mark":"point","encoding":{}},
{"width":528,"height":525,"view":{"stroke":null},"title":"LiDAR Point 3D Coordinate Graph",
"encoding":{"x":{"field":"u","type":"quantitative","axis":null,"scale":{"domain":[351,879],"nice":false,"zero":false}},"y":{"field":"v","type":"quantitative","axis":null,"scale":{"domain":[110,635],"reverse":true,"nice":false,"zero":false}}},
"layer":[
{"data":{"name":"pl"},"mark":{"type":"area","fill":"#f9f9f9"},"encoding":{"y2":{"field":"b"}}},
{"data":{"name":"pr"},"mark":{"type":"area","fill":"#f1f1f1"},"encoding":{"y2":{"field":"b"}}},
{"data":{"name":"pf"},"mark":{"type":"area","fill":"#f5f5f5"},"encoding":{"y2":{"field":"b"}}},
{"data":{"name":"grid"},"mark":{"type":"rule","color":"#b0b0b0","strokeWidth":1.1},"encoding":{"x2":{"field":"a"},"y2":{"field":"b"}}},
{"data":{"name":"ax"},"mark":{"type":"rule","color":"black","strokeWidth":1.1},"encoding":{"x2":{"field":"a"},"y2":{"field":"b"}}},
{"data":{"name":"lab"},"mark":{"type":"text","align":"center","baseline":"middle"},"encoding":{"text":{"field":"t"}}},
{"data":{"values":[{"u":538,"v":649,"t":"X (cm)"}]},"mark":{"type":"text","align":"center","baseline":"middle","angle":18},"encoding":{"text":{"field":"t"}}},
{"data":{"values":[{"u":765,"v":612,"t":"Y (cm)"}]},"mark":{"type":"text","align":"center","baseline":"middle","angle":313},"encoding":{"text":{"field":"t"}}},
{"data":{"values":[{"u":847,"v":335,"t":"H (cm)"}]},"mark":{"type":"text","align":"center","baseline":"middle","angle":270},"encoding":{"text":{"field":"t"}}},
{"data":{"name":"teal"},"mark":{"type":"point","filled":true,"clip":true,"size":40,"strokeWidth":0.6,"fillOpacity":0.33,"strokeOpacity":0.33},"encoding":{"fill":{"field":"v","type":"quantitative","legend":null,"scale":{"scheme":"viridis","domain":[-443,947]}},"stroke":{"field":"v","type":"quantitative","legend":null,"scale":{"scheme":"viridis","domain":[-443,947]}}}},
{"data":{"name":"bscat"},"mark":{"type":"point","filled":true,"clip":true,"size":40,"fill":"#35608f","stroke":"#35608f","strokeWidth":0.6,"fillOpacity":0.6,"strokeOpacity":0.6},"encoding":{"shape":{"datum":"point","scale":{"domain":["point"],"range":["circle"]},"legend":{"legendX":436,"legendY":5,"symbolSize":50,"symbolOffset":8,"labelOffset":18,"padding":5,"symbolFillColor":"#31688e","symbolStrokeColor":"#31688e","symbolOpacity":1}}}},
{"data":{"name":"blue"},"mark":{"type":"point","filled":true,"clip":true,"size":58,"fill":"#3e4a89","stroke":"#3e4a89","strokeWidth":0.6,"fillOpacity":0.8,"strokeOpacity":0.8}},
{"data":{"name":"lband"},"mark":{"type":"point","filled":true,"clip":true,"size":52,"fill":"#472d7b","stroke":"#472d7b","strokeWidth":0.6,"fillOpacity":0.55,"strokeOpacity":0.55}},
{"data":{"name":"light"},"mark":{"type":"point","filled":true,"clip":true,"size":42,"fill":"#472d7b","stroke":"#472d7b","strokeWidth":0.6,"fillOpacity":0.5,"strokeOpacity":0.5}},
{"data":{"name":"mid"},"mark":{"type":"point","filled":true,"clip":true,"size":60,"fill":"#44337f","stroke":"#44337f","strokeWidth":0.6,"fillOpacity":0.75,"strokeOpacity":0.75}},
{"data":{"name":"dark"},"mark":{"type":"point","filled":true,"clip":true,"size":62,"fill":"#482576","stroke":"#482576","strokeWidth":0.6,"fillOpacity":0.8,"strokeOpacity":0.8}},
{"data":{"name":"wall"},"mark":{"type":"point","filled":true,"clip":true,"size":60,"fill":"#440154","stroke":"#440154","strokeWidth":0.6,"fillOpacity":0.8,"strokeOpacity":0.8}},
{"data":{"name":"wall2"},"mark":{"type":"point","filled":true,"clip":true,"size":85,"fill":"#440154","stroke":"#440154","strokeWidth":0.6,"fillOpacity":0.85,"strokeOpacity":0.85}}
]}]},
{"spacing":110,"resolve":{"scale":{"color":"independent"},"legend":{"color":"independent"}},"hconcat":[
{"width":132,"height":132,"title":{"text":"LiDAR Point 2D Coordinate Graph","offset":-2},"data":{"name":"p2"},"mark":{"type":"point","filled":true,"clip":true,"size":76,"opacity":1},
"encoding":{"x":{"field":"x","type":"quantitative","title":"X (cm)","scale":{"domain":[-400,400],"nice":false},"axis":{"values":[-250,0,250]}},"y":{"field":"y","type":"quantitative","title":"Y (cm)","scale":{"domain":[-400,400],"nice":false},"axis":{"values":[-400,-200,0,200,400]}},"color":{"datum":"point","scale":{"domain":["point","wall"],"range":["#90ee90","#0000ff"]},"legend":{"legendX":145,"legendY":5,"symbolType":"circle","symbolSize":64,"symbolOpacity":1,"symbolOffset":8,"labelOffset":17,"rowPadding":6}}}},
{"width":404,"height":132,"title":{"text":"Height Histogram","offset":5},"data":{"values":[{"s":45,"e":490,"n":1042,"z":0,"k":"Height"},{"s":490,"e":936,"n":2000,"z":0,"k":"Height"},{"s":936,"e":1380,"n":2290,"z":0,"k":"Height"}]},"mark":{"type":"rect","clip":true},
"encoding":{"x":{"field":"s","type":"quantitative","title":null,"scale":{"domain":[0,1160],"nice":false},"axis":{"values":[0,200,400,600,800,1000],"format":"d"}},"x2":{"field":"e"},"y":{"field":"n","type":"quantitative","title":null,"scale":{"domain":[0,2400],"nice":false},"axis":{"values":[0,1000,2000],"format":"d"}},"y2":{"field":"z"},"color":{"field":"k","type":"nominal","scale":{"range":["#0000ff"]},"legend":{"legendX":7,"legendY":7,"symbolType":"M-1,-1H4.6V1H-1Z","symbolSize":100,"symbolOpacity":1,"labelOffset":28,"padding":5}}}}
]}
]}
